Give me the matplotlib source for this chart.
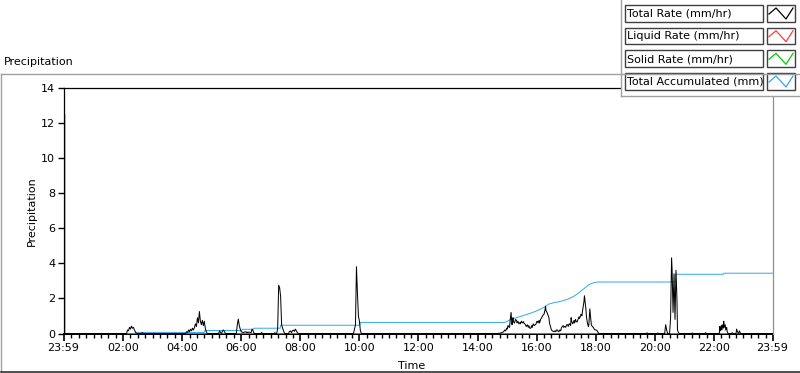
import matplotlib
matplotlib.use("Agg")
import matplotlib.pyplot as plt
from matplotlib.patches import Rectangle
from matplotlib.lines import Line2D

plt.rcParams['font.family'] = ['DejaVu Sans']

# ---------------- data (x = minutes since midnight) ----------------
x_start, x_end = -1, 1439
major_ticks = [-1, 120, 240, 360, 480, 600, 720, 840, 960, 1080, 1200, 1320, 1439]
major_labels = ["23:59", "02:00", "04:00", "06:00", "08:00", "10:00", "12:00",
                "14:00", "16:00", "18:00", "20:00", "22:00", "23:59"]
y_ticks = [0, 2, 4, 6, 8, 10, 12, 14]

total_rate_t = [-1, 127, 129, 131, 133, 135, 137, 139, 141, 143, 145, 147, 157, 159, 161,
                247, 249, 251, 253, 255, 257, 259, 261, 263, 265, 267, 269, 271, 273, 275,
                277, 279, 281, 283, 285, 287, 289, 291,
                314, 316, 318, 320, 322, 324, 326, 328,
                350, 352, 354, 356, 358, 360, 364, 368, 372, 376, 380, 382, 384, 386,
                400, 401, 403, 427, 428, 430,
                432, 434, 436, 438, 440, 442, 444, 446, 448,
                456, 458, 460, 462, 464, 466, 468, 470, 472, 474, 476,
                588, 590, 592, 594, 596, 598, 600, 602, 604,
                880, 886, 891, 893, 895, 897, 899, 900, 902, 903, 905, 906, 908, 909, 910,
                911, 912, 913, 915, 917, 919, 920, 922, 924, 926, 927, 929, 931, 933, 934,
                936, 938, 939, 941, 943, 944, 946, 948, 950, 951, 953, 955, 957, 958, 960,
                961, 963, 965, 966, 968, 970, 971, 973, 975, 977, 978, 979, 981, 983, 985,
                986, 987, 989, 990, 992, 995, 997, 999, 1000, 1002, 1004, 1005, 1007, 1009,
                1010, 1012, 1014, 1015, 1017, 1019, 1021, 1023, 1024, 1026, 1027, 1029,
                1030, 1031, 1033, 1034, 1036, 1037, 1039, 1040, 1042, 1044, 1046, 1047,
                1049, 1050, 1052, 1053, 1055, 1056, 1057, 1058, 1060, 1061, 1063, 1065,
                1066, 1068, 1069, 1071, 1073, 1075, 1077, 1079, 1081, 1083, 1085, 1086,
                1183, 1184, 1186, 1205, 1206, 1208,
                1220, 1222, 1224, 1226, 1230, 1232, 1234, 1235, 1237, 1238, 1239, 1241,
                1243, 1245, 1246, 1248, 1250,
                1275, 1276, 1278, 1302, 1303, 1305,
                1331, 1332, 1333, 1335, 1336, 1337, 1339, 1340, 1341, 1343, 1344, 1346,
                1347, 1349, 1356, 1357, 1359, 1365, 1366, 1368, 1370, 1372, 1374, 1439]
total_rate_v = [0, 0, 0.2, 0.15, 0.35, 0.25, 0.42, 0.3, 0.35, 0.2, 0.1, 0, 0, 0.05, 0,
                0, 0.1, 0.05, 0.2, 0.1, 0.25, 0.15, 0.3, 0.2, 0.35, 0.55, 0.4, 0.9, 0.6, 1.25,
                0.7, 0.5, 0.75, 0.45, 0.7, 0.3, 0.1, 0,
                0, 0.15, 0.05, 0, 0.15, 0.2, 0.1, 0,
                0, 0.5, 0.82, 0.45, 0.25, 0.1, 0.05, 0.1, 0.05, 0.08, 0.05, 0.25, 0.15, 0,
                0, 0.06, 0, 0, 0.05, 0,
                0, 0.3, 2.75, 2.6, 2.1, 0.5, 0.3, 0.15, 0,
                0, 0.12, 0.15, 0.05, 0.15, 0.2, 0.12, 0.25, 0.15, 0.05, 0,
                0, 0.25, 0.5, 3.8, 2.3, 1.0, 0.7, 0.15, 0,
                0, 0.02, 0.08, 0.1, 0.2, 0.15, 0.3, 0.25, 0.45, 0.38, 0.35, 0.7, 1.2, 0.8, 0.5,
                0.75, 0.9, 0.65, 0.6, 0.8, 0.75, 0.6, 0.7, 0.55, 0.62, 0.55, 0.7, 0.6, 0.68, 0.6,
                0.55, 0.45, 0.4, 0.5, 0.35, 0.45, 0.3, 0.3, 0.45, 0.35, 0.55, 0.45, 0.5, 0.5, 0.65,
                0.7, 0.6, 0.75, 0.6, 0.8, 0.9, 0.95, 1.05, 1.1, 1.35, 1.55, 1.3, 1.2, 1.05, 0.9,
                0.6, 0.5, 0.3, 0.2, 0.15, 0.1, 0.15, 0.1, 0.2, 0.2, 0.12, 0.1, 0.2, 0.15,
                0.3, 0.4, 0.45, 0.35, 0.4, 0.35, 0.5, 0.5, 0.4, 0.55, 0.55, 0.45,
                0.9, 0.7, 0.55, 0.6, 0.75, 0.6, 0.8, 0.7, 0.65, 0.8, 0.95, 0.85,
                1.0, 1.1, 1.0, 1.25, 1.6, 1.8, 2.15, 1.9, 1.4, 1.0, 0.6, 0.4,
                0.5, 1.4, 1.1, 0.5, 0.4, 0.35, 0.25, 0.2, 0.2, 0.15, 0.05, 0,
                0, 0.04, 0, 0, 0.03, 0,
                0, 0.5, 0.2, 0, 0, 0.9, 4.3, 3.7, 1.2, 2.4, 3.4, 0.8,
                3.6, 1.9, 0.2, 0.05, 0,
                0, 0.03, 0, 0, 0.05, 0,
                0, 0.4, 0.15, 0.45, 0.2, 0.5, 0.3, 0.7, 0.35, 0.5, 0.2, 0.35,
                0.1, 0, 0, 0.05, 0, 0, 0.25, 0.1, 0, 0.15, 0, 0]

liquid_rate_t = [-1, 370, 372, 374, 1439]
liquid_rate_v = [0, 0, 0.1, 0, 0]

solid_rate_t = [-1, 1439]
solid_rate_v = [0, 0]

accum_t = [-1, 2, 2, 144, 145, 285, 286, 361, 362, 385, 386, 439, 440, 601, 602,
           893, 897, 900, 907, 920, 934, 948, 961, 975, 985, 995, 1009, 1022, 1035,
           1046, 1056, 1066, 1073, 1083, 1241, 1242, 1339, 1340, 1439]
accum_v = [12.5, 12.5, 0, 0, 0.06, 0.06, 0.17, 0.17, 0.24, 0.24, 0.30, 0.30, 0.47, 0.47, 0.63,
           0.63, 0.65, 0.69, 0.8, 0.91, 1.03, 1.16, 1.3, 1.49, 1.68, 1.75, 1.83, 1.94, 2.11,
           2.32, 2.55, 2.78, 2.86, 2.93, 2.93, 3.37, 3.37, 3.43, 3.43]

series_names = ["Total Rate (mm/hr)", "Liquid Rate (mm/hr)", "Solid Rate (mm/hr)",
                "Total Accumulated (mm)"]
series_colors = ["#000000", "#ff3c3c", "#00cc00", "#33aaee"]

# ---------------- figure ----------------
W, H = 800, 373
fig = plt.figure(figsize=(W / 100, H / 100), dpi=100)
fs = 8

def fx(px):
    return px / W

def fy(py):
    return 1 - py / H

ax_l, ax_r, ax_t, ax_b = 63.5, 772.5, 87.5, 333.5
ax = fig.add_axes([fx(ax_l), fy(ax_b), fx(ax_r - ax_l), (ax_b - ax_t) / H])

lw1 = 0.72
ax.plot(accum_t, accum_v, color=series_colors[3], lw=lw1, zorder=2.4)
ax.plot(solid_rate_t, solid_rate_v, color=series_colors[2], lw=lw1, clip_on=False,
        zorder=2.6, snap=False)
ax.plot(liquid_rate_t, liquid_rate_v, color=series_colors[1], lw=lw1, clip_on=False,
        zorder=2.7, snap=False)
ax.plot(total_rate_t, total_rate_v, color=series_colors[0], lw=lw1, clip_on=False,
        zorder=3, snap=False)

ax.set_xlim(x_start, x_end)
ax.set_ylim(0, 14)
ax.set_yticks(y_ticks)
ax.set_yticklabels([str(v) for v in y_ticks], fontsize=fs)
ax.set_xticks(major_ticks)
ax.set_xticklabels(major_labels, fontsize=fs)
minor = [m for m in range(15, 1439, 15) if m not in major_ticks]
ax.set_xticks(minor, minor=True)
ax.tick_params(axis="y", direction="out", length=4, width=1, pad=2, colors="black")
ax.tick_params(axis="x", which="major", direction="out", length=5, width=1.2, pad=2)
ax.tick_params(axis="x", which="minor", direction="out", length=3, width=1)
for s in ["left", "top", "bottom"]:
    ax.spines[s].set_color("black")
    ax.spines[s].set_linewidth(0.9)
ax.spines["bottom"].set_linewidth(1.44)
ax.spines["bottom"].set_zorder(2.1)
ax.spines["right"].set_color("#909090")
ax.spines["right"].set_linewidth(0.9)

fig.text(fx(412), fy(366), "Time", ha="center", va="center", fontsize=fs)
fig.text(fx(32), fy(211), "Precipitation", ha="center", va="center", rotation=90, fontsize=fs)
fig.text(fx(4), fy(62), "Precipitation", ha="left", va="center", fontsize=fs)

# ---------------- overlay for frame and legend ----------------
ov = fig.add_axes([0, 0, 1, 1], zorder=10)
ov.set_xlim(0, W)
ov.set_ylim(H, 0)
ov.axis("off")

# outer frame
ov.add_line(Line2D([0.5, 0.5], [73.5, 371.5], color="#a0a0a0", lw=1))
ov.add_line(Line2D([0.5, 800], [73.5, 73.5], color="#a0a0a0", lw=1))
ov.add_line(Line2D([0.5, 800], [371.5, 371.5], color="#303030", lw=1.2))

# legend panel
ov.add_patch(Rectangle((620.5, -1), 181, 96.5, facecolor="white", edgecolor="none"))
ov.add_line(Line2D([620.5, 620.5], [0, 95.5], color="#a0a0a0", lw=1))
ov.add_line(Line2D([620.5, 800], [95.5, 95.5], color="#a0a0a0", lw=1))
row_tops = [5, 27.7, 50.3, 73]
row_h = 16.5
for top, name, col in zip(row_tops, series_names, series_colors):
    ov.add_patch(Rectangle((624.5, top), 138, row_h, facecolor="white",
                           edgecolor="#404040", lw=1))
    ov.text(627, top + row_h / 2 + 0.5, name, ha="left", va="center", fontsize=fs)
    ov.add_patch(Rectangle((766.5, top), 28.5, row_h, facecolor="white",
                           edgecolor="#404040", lw=1))
    sx = [769, 776, 786, 793]
    sy = [top + 9, top + 3, top + 14, top + 3]
    ov.add_line(Line2D(sx, sy, color=col, lw=0.9))

fig.savefig("out.png", dpi=100)
